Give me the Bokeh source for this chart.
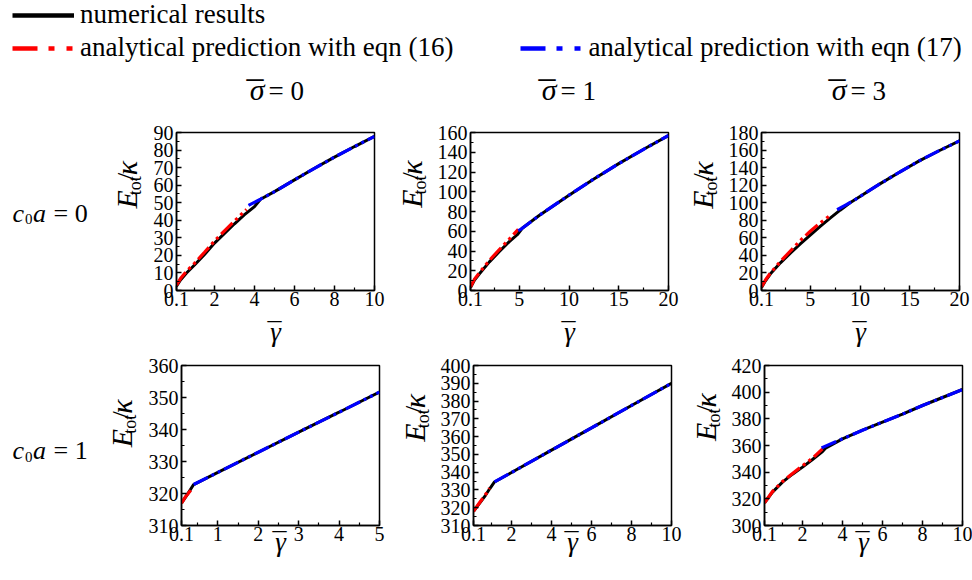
import math
from bokeh.plotting import figure
from bokeh.layouts import column, row
from bokeh.models import Range1d, FixedTicker, Label, Legend, LegendItem
from bokeh.embed import file_html
from bokeh.resources import INLINE

FONT = "Liberation Serif"
NAN = float("nan")
SH = 0.36     # baseline correction in header / panels (fraction of font size)
SH_T = -0.37  # baseline correction for horizontal text in the text strips

# ---------------- legend / titles ----------------
legend_labels = ["numerical results",
                 "analytical prediction with eqn (16)",
                 "analytical prediction with eqn (17)"]
sigma_values = ["0", "1", "3"]
c0a_values = ["0", "1"]

# ---------------- data ----------------
# panel 1: sigma=0, c0a=0
p1_num_x = [0.1, 0.3, 0.6, 1.0, 1.5, 2.0, 2.5, 3.0, 3.5, 4.0, 4.3, 5.0, 6.0, 7.0, 8.0, 9.0, 10.0]
p1_num_y = [2.5, 6.0, 10.0, 14.5, 20.5, 27.0, 32.5, 38.0, 43.2, 47.8, 52.0, 56.3, 63.0, 69.6, 76.0, 82.0, 87.8]
p1_e16_x = [0.1, 0.3, 0.6, 1.0, 1.5, 2.0, 2.5, 3.0, 3.6]
p1_e16_y = [3.0, 6.8, 11.0, 15.5, 21.8, 28.2, 34.0, 39.6, 46.2]
p1_e17_x = [3.7, 4.3, 5.0, 6.0, 7.0, 8.0, 9.0, 10.0]
p1_e17_y = [48.5, 52.0, 56.3, 63.0, 69.6, 76.0, 82.0, 87.8]

# panel 2: sigma=1, c0a=0
p2_num_x = [0.1, 0.5, 1.0, 2.0, 3.0, 4.0, 4.8, 5.3, 7.0, 10.0, 12.5, 15.0, 17.5, 20.0]
p2_num_y = [3.0, 10.5, 17.0, 29.0, 39.5, 49.5, 56.5, 63.0, 76.0, 96.5, 113.0, 128.5, 143.0, 157.0]
p2_e16_x = [0.1, 0.5, 1.0, 2.0, 3.0, 4.0, 4.9]
p2_e16_y = [3.5, 11.5, 18.0, 30.5, 41.5, 52.0, 62.0]
p2_e17_x = [4.9, 5.3, 7.0, 10.0, 12.5, 15.0, 17.5, 20.0]
p2_e17_y = [60.5, 63.0, 76.0, 96.5, 113.0, 128.5, 143.0, 157.0]

# panel 3: sigma=3, c0a=0
p3_num_x = [0.1, 0.5, 1.0, 2.0, 3.0, 4.0, 5.0, 6.0, 7.0, 8.0, 9.0, 10.2, 12.0, 14.0, 16.0, 18.0, 20.0]
p3_num_y = [3.5, 11.0, 19.0, 31.5, 42.5, 53.0, 63.0, 73.0, 82.5, 91.5, 100.0, 108.5, 121.5, 135.0, 148.0, 159.5, 170.5]
p3_e16_x = [0.1, 0.5, 1.0, 2.0, 3.0, 4.0, 5.0, 6.0, 7.0]
p3_e16_y = [4.0, 12.0, 20.0, 33.0, 45.0, 57.0, 67.5, 77.0, 85.5]
p3_e17_x = [7.7, 8.5, 9.3, 10.2, 12.0, 14.0, 16.0, 18.0, 20.0]
p3_e17_y = [92.0, 97.0, 102.0, 108.5, 121.5, 135.0, 148.0, 159.5, 170.5]

# panel 4: sigma=0, c0a=1
p4_num_x = [0.1, 0.25, 0.4, 1.0, 2.0, 3.0, 4.0, 5.0]
p4_num_y = [317.0, 319.8, 322.8, 326.6, 332.9, 339.2, 345.4, 351.7]
p4_e16_x = [0.1, 0.2, 0.33]
p4_e16_y = [317.0, 319.0, 321.0]
p4_e17_x = [0.4, 1.0, 2.0, 3.0, 4.0, 5.0]
p4_e17_y = [322.8, 326.6, 332.9, 339.2, 345.4, 351.7]

# panel 5: sigma=1, c0a=1
p5_num_x = [0.1, 0.4, 0.7, 0.9, 1.15, 2.0, 4.0, 6.0, 8.0, 10.0]
p5_num_y = [318.0, 322.5, 327.0, 330.5, 334.5, 339.8, 352.4, 364.9, 377.5, 390.0]
p5_e16_x = [0.1, 0.4, 0.7, 0.9]
p5_e16_y = [318.0, 322.8, 327.4, 331.0]
p5_e17_x = [1.15, 2.0, 4.0, 6.0, 8.0, 10.0]
p5_e17_y = [334.5, 339.8, 352.4, 364.9, 377.5, 390.0]

# panel 6: sigma=3, c0a=1
p6_num_x = [0.1, 0.5, 1.0, 1.5, 2.0, 2.5, 3.0, 3.15, 4.0, 5.0, 6.0, 7.0, 8.0, 9.0, 10.0]
p6_num_y = [317.0, 325.0, 332.5, 338.5, 343.8, 349.5, 355.5, 358.0, 365.0, 371.5, 377.5, 383.5, 390.0, 396.0, 402.0]
p6_e16_x = [0.1, 0.5, 1.0, 1.5, 2.0, 2.5, 3.0]
p6_e16_y = [317.0, 325.5, 333.0, 339.0, 344.8, 350.5, 357.5]
p6_e17_x = [2.95, 4.0, 5.0, 6.0, 7.0, 8.0, 9.0, 10.0]
p6_e17_y = [358.2, 365.0, 371.5, 377.5, 383.5, 390.0, 396.0, 402.0]

# ---------------- axes ----------------
x_ticks_10 = [0.1, 2, 4, 6, 8, 10]
x_minor_10 = [1, 3, 5, 7, 9]
x_labels_10 = ["0.1", "2", "4", "6", "8", "10"]
x_ticks_20 = [0.1, 5, 10, 15, 20]
x_minor_20 = [2.5, 7.5, 12.5, 17.5]
x_labels_20 = ["0.1", "5", "10", "15", "20"]
x_ticks_5 = [0.1, 1, 2, 3, 4, 5]
x_minor_5 = [0.5, 1.5, 2.5, 3.5, 4.5]
x_labels_5 = ["0.1", "1", "2", "3", "4", "5"]

y_ticks_1 = list(range(0, 91, 10))
y_minor_1 = list(range(5, 90, 10))
y_ticks_2 = list(range(0, 161, 20))
y_minor_2 = list(range(10, 160, 20))
y_ticks_3 = list(range(0, 181, 20))
y_minor_3 = list(range(10, 180, 20))
y_ticks_4 = list(range(310, 361, 10))
y_minor_4 = list(range(315, 360, 10))
y_ticks_5 = list(range(310, 401, 10))
y_minor_5 = list(range(315, 400, 10))
y_ticks_6 = list(range(300, 421, 20))
y_minor_6 = list(range(310, 420, 20))

NUM_COLOR = "black"
E16_COLOR = "#ff0000"
E17_COLOR = "#0000ff"
PANEL_DASH = "16 4 3 4 3 4"
LEGEND_DASH = "25 11 6 12 6 40"


def lab(fig, x, y, text, size, italic=False, dx=0, dy=0, align="left",
        angle=0.0, side=None):
    L = Label(x=x, y=y, x_offset=dx, y_offset=dy, text=text,
              text_font=FONT, text_font_size=f"{size}px",
              text_font_style="italic" if italic else "normal",
              text_color="black", text_align=align,
              text_baseline="alphabetic", angle=angle)
    if side is None:
        fig.add_layout(L)
    else:
        fig.add_layout(L, side)


def text_fig(w, h=230):
    t = figure(width=w, height=h, min_border=0, x_range=Range1d(0, w),
               y_range=Range1d(0, h), x_axis_type=None, y_axis_type=None,
               toolbar_location=None, output_backend="svg", title=None)
    t.outline_line_color = None
    t.background_fill_color = "white"
    t.border_fill_color = "white"
    return t


def ylabel(t, bx, ys):
    # bx: wanted baseline x ; ys: wanted start (bottom) of the label, y up
    a = math.pi / 2
    M, m = 30, 18
    lab(t, bx - SH * M, ys, "E", M, True, angle=a)
    lab(t, bx + 4 - SH * m, ys + 19.3, "tot", m, False, angle=a)
    lab(t, bx - SH * M, ys + 39.8, "/", M, False, angle=a)
    lab(t, bx - SH * M, ys + 48.1, "\u03ba", M, True, angle=a)


def hlab(t, x, base_y, text, size, italic=False, align="left", corr=SH):
    lab(t, x, base_y + corr * size, text, size, italic, align=align)


def make_panel(xr, yr, xt, xm, xl, yt, ym, fw, fh, mb, series, gam_base):
    f = figure(frame_width=fw, frame_height=fh,
               min_border_left=mb[0], min_border_right=mb[1],
               min_border_top=mb[2], min_border_bottom=mb[3],
               x_range=Range1d(*xr), y_range=Range1d(*yr),
               toolbar_location=None, output_backend="svg", title=None)
    f.grid.visible = False
    f.background_fill_color = "white"
    f.border_fill_color = "white"
    f.outline_line_color = "black"
    f.outline_line_width = 1.5
    f.outline_line_alpha = 1.0
    f.xaxis.ticker = FixedTicker(ticks=xt, minor_ticks=xm)
    f.xaxis.major_label_overrides = {t: s for t, s in zip(xt, xl)}
    f.yaxis.ticker = FixedTicker(ticks=yt, minor_ticks=ym)
    f.yaxis.major_label_overrides = {t: str(t) for t in yt}
    for ax in (f.xaxis[0], f.yaxis[0]):
        ax.axis_line_color = "black"
        ax.axis_line_width = 1.5
        ax.major_tick_in = 5
        ax.major_tick_out = 0
        ax.major_tick_line_width = 1.5
        ax.minor_tick_in = 3
        ax.minor_tick_out = 0
        ax.minor_tick_line_width = 1.2
        ax.major_label_text_font = FONT
        ax.major_label_text_font_size = "20px"
        ax.major_label_text_color = "black"
    f.xaxis.major_label_standoff = 1
    f.yaxis.major_label_standoff = 3

    (nx, ny), (ax16, ay16), (ax17, ay17) = series
    f.line(nx, ny, line_color=NUM_COLOR, line_width=3)
    f.line(ax16, ay16, line_color=E16_COLOR, line_width=3.2, line_dash=PANEL_DASH)
    f.line(ax17, ay17, line_color=E17_COLOR, line_width=3.2, line_dash=PANEL_DASH)

    x0, y0 = xr[0], yr[0]
    # x-axis label: gamma with an overbar (gam_base = px below frame bottom)
    lab(f, x0, y0, "\u03b3", 27, True, fw / 2, -gam_base + SH * 27,
        align="center", side="below")
    lab(f, x0, y0, "_", 28, False, fw / 2 - 1, -(gam_base - 21.5) + SH * 28,
        align="center", side="right")
    return f


p1 = make_panel((0.1, 10), (0, 90), x_ticks_10, x_minor_10, x_labels_10,
                y_ticks_1, y_minor_1, 198, 158, (30, 18, 12, 60),
                [(p1_num_x, p1_num_y), (p1_e16_x, p1_e16_y), (p1_e17_x, p1_e17_y)], 51)
p2 = make_panel((0.1, 20), (0, 160), x_ticks_20, x_minor_20, x_labels_20,
                y_ticks_2, y_minor_2, 198, 158, (35, 15, 12, 60),
                [(p2_num_x, p2_num_y), (p2_e16_x, p2_e16_y), (p2_e17_x, p2_e17_y)], 51)
p3 = make_panel((0.1, 20), (0, 180), x_ticks_20, x_minor_20, x_labels_20,
                y_ticks_3, y_minor_3, 198, 158, (35, 15, 12, 60),
                [(p3_num_x, p3_num_y), (p3_e16_x, p3_e16_y), (p3_e17_x, p3_e17_y)], 51)
p4 = make_panel((0.1, 5), (310, 360), x_ticks_5, x_minor_5, x_labels_5,
                y_ticks_4, y_minor_4, 198, 160, (33, 16, 15, 55),
                [(p4_num_x, p4_num_y), (p4_e16_x, p4_e16_y), (p4_e17_x, p4_e17_y)], 26)
p5 = make_panel((0.1, 10), (310, 400), x_ticks_10, x_minor_10, x_labels_10,
                y_ticks_5, y_minor_5, 198, 160, (35, 15, 15, 55),
                [(p5_num_x, p5_num_y), (p5_e16_x, p5_e16_y), (p5_e17_x, p5_e17_y)], 26)
p6 = make_panel((0.1, 10), (300, 420), x_ticks_10, x_minor_10, x_labels_10,
                y_ticks_6, y_minor_6, 198, 160, (35, 15, 15, 55),
                [(p6_num_x, p6_num_y), (p6_e16_x, p6_e16_y), (p6_e17_x, p6_e17_y)], 26)

# ---------------- text strips (row labels and y-axis labels) ----------------
t1, t2, t3 = text_fig(146), text_fig(42), text_fig(42)
t4, t5, t6 = text_fig(145), text_fig(42), text_fig(42)
ylabel(t1, 137, 119.5)
ylabel(t2, 30, 120.5)
ylabel(t3, 30, 119)
ylabel(t4, 132, 112.5)
ylabel(t5, 30, 120.5)
ylabel(t6, 30, 121.5)

for t, val, base in ((t1, c0a_values[0], 122), (t4, c0a_values[1], 117)):
    hlab(t, 12, base, "c", 26, True, corr=SH_T)
    hlab(t, 24.5, base - 13, "0", 15, False, corr=SH_T)
    hlab(t, 32.5, base, "a", 26, True, corr=SH_T)
    hlab(t, 53, base, "= " + val, 26, False, corr=SH_T)

# ---------------- header: legend and column titles ----------------
header = figure(width=972, height=120, min_border=0, x_range=Range1d(0, 972),
                y_range=Range1d(0, 120), x_axis_type=None, y_axis_type=None,
                toolbar_location=None, output_backend="svg", title=None)
header.outline_line_color = None
header.background_fill_color = "white"
header.border_fill_color = "white"
r_num = header.line(x=[NAN], y=[NAN], line_color=NUM_COLOR, line_width=4.5)
r_16 = header.line(x=[NAN], y=[NAN], line_color=E16_COLOR, line_width=4.5, line_dash=LEGEND_DASH)
r_17 = header.line(x=[NAN], y=[NAN], line_color=E17_COLOR, line_width=4.5, line_dash=LEGEND_DASH)


def style_legend(lg):
    lg.border_line_color = None
    lg.background_fill_alpha = 0
    lg.padding = 0
    lg.margin = 0
    lg.glyph_width = 62
    lg.glyph_height = 30
    lg.label_height = 30
    lg.label_standoff = 6
    lg.label_text_font = FONT
    lg.label_text_font_size = "27px"
    lg.label_text_color = "black"


legA = Legend(items=[LegendItem(label=legend_labels[0], renderers=[r_num])],
              location=(12, 90))
legB = Legend(items=[LegendItem(label=legend_labels[1], renderers=[r_16]),
                     LegendItem(label=legend_labels[2], renderers=[r_17])],
              location=(12, 57), orientation="horizontal", spacing=67)
style_legend(legA)
style_legend(legB)
header.add_layout(legA)
header.add_layout(legB)

for s_val, x_end in zip(sigma_values, [264, 556, 846]):
    hlab(header, x_end, 20, "\u03c3", 30, True, align="right")
    hlab(header, x_end - 18, 43, "_", 34, False)
    hlab(header, x_end + 4, 20, "= " + s_val, 27, False)

layout = column(header,
                row(t1, p1, t2, p2, t3, p3),
                row(t4, p4, t5, p5, t6, p6))
open("out.html", "w").write(file_html(layout, INLINE))
